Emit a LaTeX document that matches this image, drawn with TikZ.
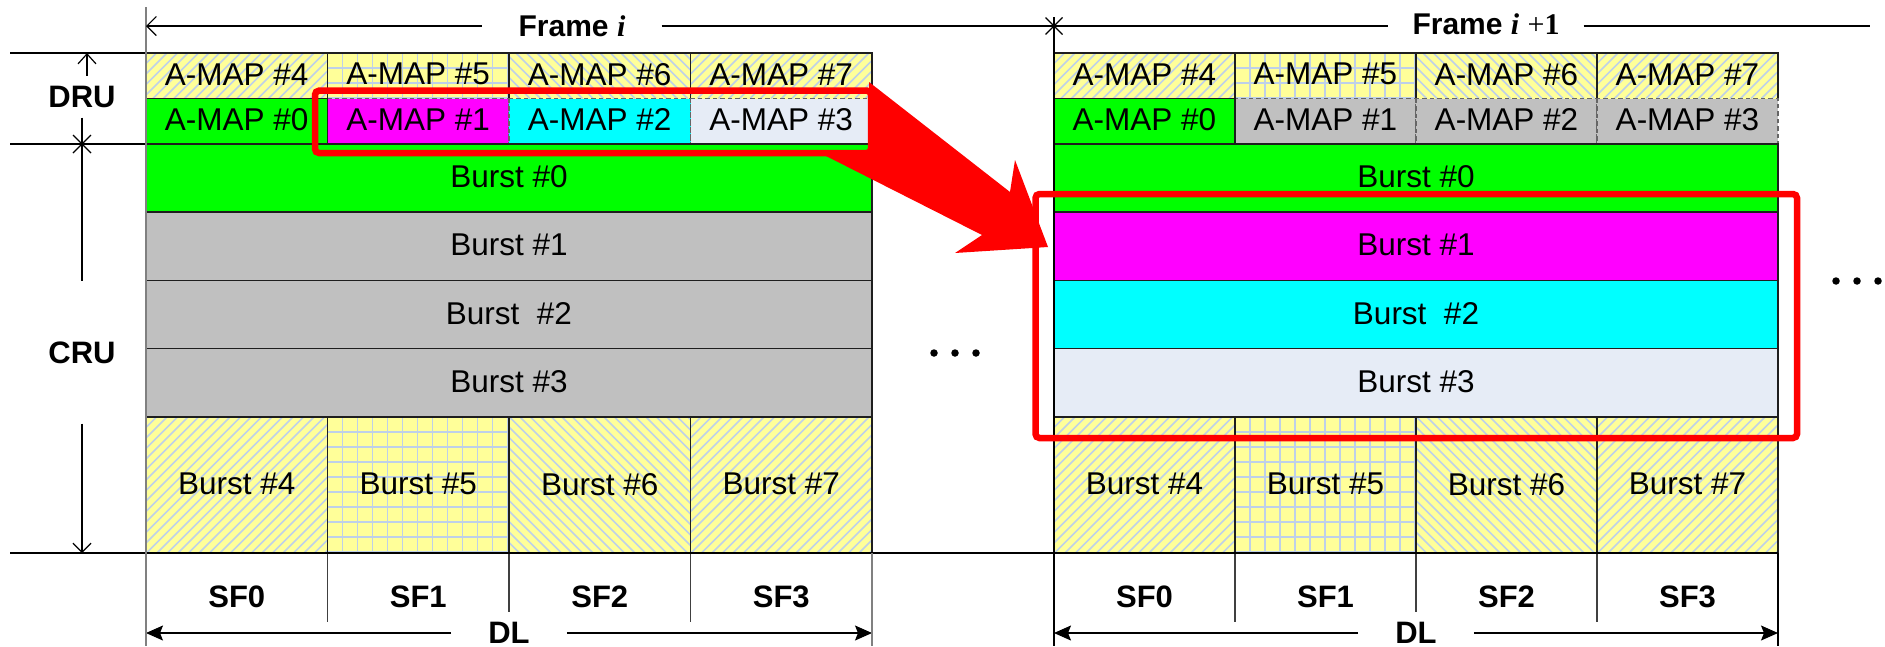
\documentclass[tikz,border=0pt]{standalone}
\usepackage{fontspec}
\setmainfont{Liberation Sans}
\newfontfamily\serifface{Liberation Serif}
\usetikzlibrary{arrows.meta}

\definecolor{cgreen}{RGB}{0,255,0}
\definecolor{cmag}{RGB}{255,0,255}
\definecolor{ccyan}{RGB}{0,255,255}
\definecolor{cpale}{RGB}{230,236,246}
\definecolor{cgray}{RGB}{192,192,192}
\definecolor{cyellow}{RGB}{255,255,153}
\definecolor{chatch}{RGB}{190,208,232}
\definecolor{cred}{RGB}{255,0,0}
\definecolor{cedge}{RGB}{30,30,30}

\tikzset{
  cellbox/.style={draw=cedge, line width=1.3pt},
  dashbox/.style={draw=black!60, line width=1.3pt, dash pattern=on 4.5pt off 3pt},
  txt/.style={font=\fontsize{31.5}{36}\selectfont, inner sep=0pt},
  btxt/.style={font=\fontsize{31}{36}\selectfont\bfseries, inner sep=0pt},
  ttxt/.style={font=\fontsize{30}{36}\selectfont\bfseries, inner ysep=0pt},
  dimline/.style={draw=black, line width=1.2pt},
  sepline/.style={draw=black!75, line width=1.3pt},
  edgeline/.style={draw=black!50, line width=2pt},
  fillhead/.style={-{Stealth[length=17pt,width=15pt,inset=3pt]}},
  redbox/.style={draw=cred, line width=6.5pt, rounded corners=4pt},
  dotmark/.style={circle, fill=black, inner sep=0pt, minimum size=7.5pt},
  hatchline/.style={draw=chatch, line width=1.5pt},
}

% yellow cell with rising diagonal hatching
\newcommand{\risehatch}[4]{%
  \begin{scope}
    \clip (#1,#2) rectangle (#3,#4);
    \fill[cyellow] (#1,#2) rectangle (#3,#4);
    \foreach \k in {0,...,32}
      \draw[hatchline] ({#1+\k*10.5},{#2}) -- ++({-(#4-#2)},{#4-#2});
  \end{scope}}
% yellow cell with falling diagonal hatching
\newcommand{\fallhatch}[4]{%
  \begin{scope}
    \clip (#1,#2) rectangle (#3,#4);
    \fill[cyellow] (#1,#2) rectangle (#3,#4);
    \foreach \k in {0,...,32}
      \draw[hatchline] ({#1-(#4-#2)+\k*10.5},{#2}) -- ++({#4-#2},{#4-#2});
  \end{scope}}
% yellow cell with a square grid
\newcommand{\gridhatch}[4]{%
  \begin{scope}
    \clip (#1,#2) rectangle (#3,#4);
    \fill[cyellow] (#1,#2) rectangle (#3,#4);
    \foreach \k in {1,...,12}
      \draw[hatchline] ({#1+\k*15},{#2}) -- ({#1+\k*15},{#4});
    \foreach \k in {1,...,9}
      \draw[hatchline] ({#1},{#2+\k*15}) -- ({#3},{#2+\k*15});
  \end{scope}}

% parts shared by both frames: #1 name prefix, #2 left x, #3 column width
\newcommand{\frameparts}[3]{%
  \pgfmathsetmacro{\xA}{#2}\pgfmathsetmacro{\xB}{#2+#3}%
  \pgfmathsetmacro{\xC}{#2+2*#3}\pgfmathsetmacro{\xD}{#2+3*#3}%
  \pgfmathsetmacro{\xE}{#2+4*#3}%
  % upper A-MAP row
  \risehatch{\xA}{53}{\xB}{98.5}
  \gridhatch{\xB}{53}{\xC}{98.5}
  \fallhatch{\xC}{53}{\xD}{98.5}
  \risehatch{\xD}{53}{\xE}{98.5}
  \draw[cellbox] (\xA,98.5) -- (\xA,53) -- (\xE,53) -- (\xE,98.5);
  \draw[cellbox] (\xA,98.5) -- (\xB,98.5);
  \foreach \xx in {\xB,\xC,\xD} \draw[cellbox] (\xx,53) -- (\xx,98.5);
  % lower burst row
  \risehatch{\xA}{417}{\xB}{553}
  \gridhatch{\xB}{417}{\xC}{553}
  \fallhatch{\xC}{417}{\xD}{553}
  \risehatch{\xD}{417}{\xE}{553}
  \foreach \xx/\xy in {\xA/\xB,\xB/\xC,\xC/\xD,\xD/\xE}
    \draw[cellbox] (\xx,417) rectangle (\xy,553);
  \foreach \nn/\xx in {4/\xA,5/\xB,6/\xC,7/\xD}{
    \node[txt] (#1map\nn) at ({\xx+#3/2},74.2) {A-MAP \#\nn};
    \node[txt] (#1burst\nn) at ({\xx+#3/2},484.3) {Burst \#\nn};
  }
  \foreach \nn/\xx in {0/\xA,1/\xB,2/\xC,3/\xD}
    \node[btxt] (#1sf\nn) at ({\xx+#3/2},596.7) {SF\nn};
  % subframe separators
  \draw[sepline] (\xB,553) -- (\xB,621.7);
  \draw[sepline] (\xC,553) -- (\xC,611.7);
  \draw[sepline] (\xD,553) -- (\xD,621.7);
  % DL span
  \node[btxt, inner xsep=37pt] (#1dl) at (\xC,633) {DL};
  \coordinate (#1dlL) at (\xA,633);
  \coordinate (#1dlR) at (\xE,633);
  \draw[dimline, fillhead] (#1dl) -- (#1dlL);
  \draw[dimline, fillhead] (#1dl) -- (#1dlR);
}

\begin{document}
\begin{tikzpicture}[x=1pt, y=-1pt]
\useasboundingbox (0,0) rectangle (1885,646);
\fill[white] (0,0) rectangle (1885,646);

% ---------------- frame i ----------------
\frameparts{a}{146}{181.5}
\draw[dashbox, fill=cmag]  (\xB,98.5) rectangle (\xC,144);
\draw[dashbox, fill=ccyan] (\xC,98.5) rectangle (\xD,144);
\draw[dashbox, fill=cpale] (\xD,98.5) rectangle (\xE,144);
\draw[cellbox, fill=cgreen] (\xA,98.5) rectangle (\xB,144);
\draw[cellbox, fill=cgreen] (\xA,144) rectangle (\xE,212);
\draw[cellbox, fill=cgray] (\xA,212) rectangle (\xE,280.5);
\draw[cellbox, fill=cgray] (\xA,280.5) rectangle (\xE,348.5);
\draw[cellbox, fill=cgray] (\xA,348.5) rectangle (\xE,417);
\foreach \nn/\xx in {0/\xA,1/\xB,2/\xC,3/\xD}
  \node[txt] (amap\nn) at ({\xx+90.75},119.7) {A-MAP \#\nn};
\node[txt] (aburst0) at (\xC,177) {Burst \#0};
\node[txt] (aburst1) at (\xC,245.3) {Burst \#1};
\node[txt] (aburst2) at (\xC,313.5) {Burst\ \ \#2};
\node[txt] (aburst3) at (\xC,381.8) {Burst \#3};

% ---------------- frame i+1 ----------------
\frameparts{b}{1054}{181}
\draw[dashbox, fill=cgray] (\xB,98.5) rectangle (\xC,144);
\draw[dashbox, fill=cgray] (\xC,98.5) rectangle (\xD,144);
\draw[dashbox, fill=cgray] (\xD,98.5) rectangle (\xE,144);
\draw[cellbox, fill=cgreen, line width=1.8pt] (\xA,98.5) rectangle (\xB,144);
\draw[cellbox, fill=cgreen] (\xA,144) rectangle (\xE,212);
\draw[cellbox, fill=cmag] (\xA,212) rectangle (\xE,280.5);
\draw[cellbox, fill=ccyan] (\xA,280.5) rectangle (\xE,348.5);
\draw[cellbox, fill=cpale] (\xA,348.5) rectangle (\xE,417);
\foreach \nn/\xx in {0/\xA,1/\xB,2/\xC,3/\xD}
  \node[txt] (bmap\nn) at ({\xx+90.5},119.7) {A-MAP \#\nn};
\node[txt] (bburst0) at (\xC,177) {Burst \#0};
\node[txt] (bburst1) at (\xC,245.3) {Burst \#1};
\node[txt] (bburst2) at (\xC,313.5) {Burst\ \ \#2};
\node[txt] (bburst3) at (\xC,381.8) {Burst \#3};

% ---------------- frame edges and guide lines ----------------
\coordinate (ruleA) at (10,53);
\coordinate (ruleB) at (10,144);
\coordinate (ruleC) at (10,553);
\draw[dimline] (ruleA) -- (146,53);
\draw[dimline] (ruleB) -- (146,144);
\draw[dimline] (ruleC) -- (1778,553);
\draw[edgeline] (146,7) -- (146,646);
\draw[edgeline] (871.5,553) -- (871.5,646);
\draw[dimline, line width=1.6pt] (1054,17) -- (1054,646);
\draw[dimline, line width=1.6pt] (1778,553) -- (1778,646);

% frame spans along the top
\node[ttxt, inner xsep=36pt] (frameA) at (572,26)
  {Frame {\serifface\itshape i}};
\node[ttxt, inner xsep=24pt] (frameB) at (1486,24)
  {Frame {\serifface\itshape i} {\serifface\mdseries +}{\serifface 1}};
\coordinate (topL) at (146,26);
\coordinate (topM) at (1054,26);
\coordinate (topR) at (1870,26);
\draw[dimline, {Straight Barb[length=9.5pt,width=19pt]}-] (topL) -- (frameA.west |- topL);
\draw[dimline] (frameA.east |- topL) -- (topM);
\draw[dimline] (topM) -- (frameB.west |- topM);
\draw[dimline] (frameB.east |- topM) -- (topR);
\draw[dimline] ([shift={(-8.5,-8.5)}]topM) -- ([shift={(8.5,8.5)}]topM);
\draw[dimline] ([shift={(-8.5,8.5)}]topM) -- ([shift={(8.5,-8.5)}]topM);

% DRU / CRU spans on the left
\node[btxt, inner ysep=10pt] (dru) at (82,96.7) {DRU};
\node[btxt, inner ysep=60pt] (cru) at (82,352.5) {CRU};
\coordinate (druTop) at (87,53);
\coordinate (druX) at (82,144);
\coordinate (cruBot) at (82,553);
\draw[dimline, -{Straight Barb[length=10pt,width=18pt]}] ([xshift=5pt]dru.north) -- (druTop);
\draw[dimline] (dru.south) -- (cru.north);
\draw[dimline, -{Straight Barb[length=9pt,width=18pt]}] (cru.south) -- (cruBot);
\draw[dimline] ([shift={(-9,-9)}]druX) -- ([shift={(9,9)}]druX);
\draw[dimline] ([shift={(-9,9)}]druX) -- ([shift={(9,-9)}]druX);

% continuation dots
\node[dotmark] (gapdot1) at (934,353) {};
\node[dotmark] (gapdot2) at (955,353) {};
\node[dotmark] (gapdot3) at (976,353) {};
\node[dotmark] (enddot1) at (1836,281) {};
\node[dotmark] (enddot2) at (1857,281) {};
\node[dotmark] (enddot3) at (1878,281) {};

% highlight boxes and the moving arrow
\draw[redbox] (315,90.7) rectangle (871,153);
\draw[redbox] (1035.5,194) rectangle (1797,438);
\fill[cred] (869,82) -- (1010,192) -- (1015,160) -- (1048,247)
  -- (955,253) -- (982,235) -- (826,156) -- (869,150) -- cycle;
\end{tikzpicture}
\end{document}
